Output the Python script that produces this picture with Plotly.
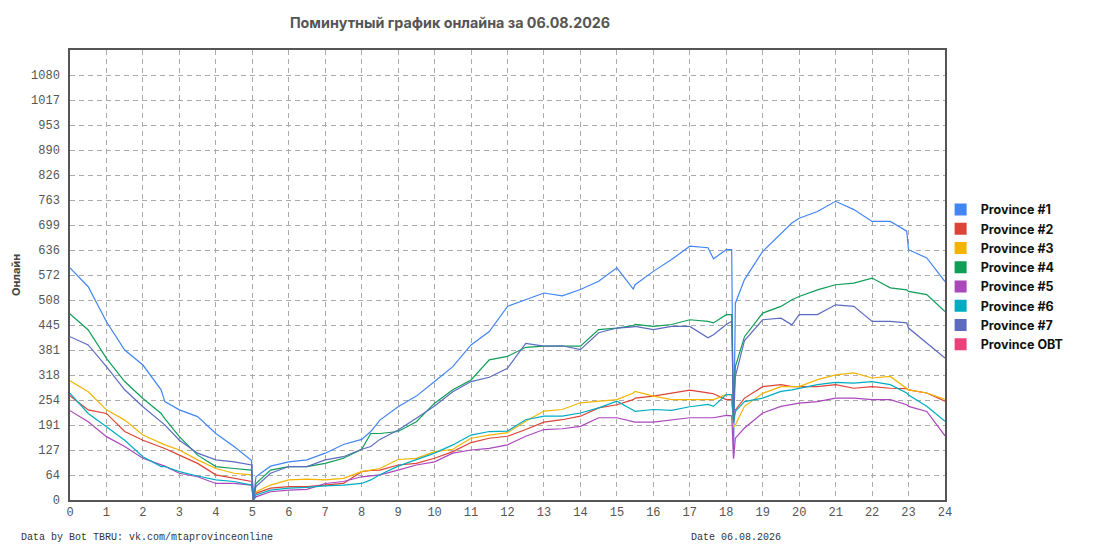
import plotly.graph_objects as go

# время в часах (общая ось для всех провинций)
hours = [0, 0.5, 1, 1.5, 2, 2.5, 2.6, 3, 3.5, 4, 4.5, 4.98, 5.03, 5.1,
         5.5, 6, 6.5, 7, 7.5, 8, 8.25, 8.5, 9, 9.5, 10, 10.5, 11, 11.5, 12,
         12.5, 13, 13.5, 14, 14.5, 15, 15.45, 15.5, 16, 16.5, 17, 17.5, 17.65, 18,
         18.15, 18.2, 18.25,
         18.5, 19, 19.5, 19.8, 20, 20.5, 21, 21.5, 22, 22.5, 22.95, 23, 23.5, 24]

province_1 = [590, 542, 453, 381, 343, 280, 250, 229, 212, 169, 136, 100, 0, 59,
              86, 97, 102, 119, 141, 154, 174, 203, 237, 264, 301, 339, 394, 428, 492,
              509, 526, 519, 535, 556, 590, 536, 547, 581, 611, 645, 641, 613, 636,
              636, 110, 500,
              560, 632, 678, 704, 716, 733, 759, 738, 708, 708, 683, 636, 615, 555]
province_2 = [265, 229, 220, 174, 152, 136, 131, 114, 93, 64, 55, 47, 0, 17,
              30, 34, 34, 38, 42, 72, 75, 76, 89, 93, 106, 123, 146, 157, 162,
              179, 198, 204, 213, 234, 242, 255, 259, 264, 272, 279, 272, 270, 255,
              255, 200, 229,
              259, 288, 293, 288, 288, 288, 293, 284, 288, 284, 283, 280, 272, 251]
province_3 = [303, 275, 229, 203, 165, 144, 140, 127, 102, 80, 68, 64, 0, 21,
              38, 51, 53, 51, 55, 72, 76, 80, 103, 106, 123, 129, 157, 165, 171,
              200, 226, 230, 247, 251, 255, 272, 276, 264, 255, 255, 255, 255, 268,
              268, 185, 191,
              238, 271, 288, 288, 288, 306, 318, 323, 310, 314, 285, 280, 272, 256]
province_4 = [473, 432, 360, 301, 258, 220, 207, 161, 114, 85, 80, 76, 0, 42,
              76, 85, 85, 93, 106, 129, 169, 169, 174, 199, 246, 280, 305, 356, 365,
              388, 391, 391, 391, 433, 437, 443, 446, 441, 446, 458, 454, 450, 471,
              471, 230, 339,
              415, 475, 492, 509, 517, 534, 547, 551, 564, 539, 534, 530, 522, 479]
province_5 = [227, 199, 161, 136, 106, 89, 86, 68, 59, 42, 42, 38, 0, 8,
              21, 25, 27, 42, 47, 59, 61, 64, 76, 89, 97, 119, 127, 131, 140,
              162, 179, 181, 187, 209, 209, 198, 198, 198, 204, 209, 209, 209, 215,
              214, 105, 157,
              183, 221, 238, 242, 246, 250, 259, 259, 255, 255, 242, 238, 225, 163]
province_6 = [271, 220, 186, 152, 110, 85, 85, 72, 61, 51, 47, 38, 0, 13,
              25, 30, 32, 36, 38, 42, 51, 64, 86, 103, 119, 140, 165, 174, 175,
              204, 213, 213, 221, 234, 251, 228, 225, 230, 228, 237, 243, 238, 268,
              268, 195, 225,
              250, 259, 276, 280, 284, 293, 299, 297, 301, 293, 272, 267, 238, 200]
province_7 = [415, 394, 339, 280, 237, 199, 191, 152, 119, 102, 97, 89, 0, 34,
              68, 85, 85, 102, 110, 129, 136, 154, 178, 208, 239, 275, 301, 312, 335,
              398, 391, 392, 382, 425, 437, 440, 441, 433, 441, 441, 412, 420, 446,
              454, 200, 314,
              405, 458, 462, 445, 471, 471, 496, 492, 454, 454, 450, 437, 399, 361]
province_obt = []  # нет данных за день

names = ["Province #1", "Province #2", "Province #3", "Province #4",
         "Province #5", "Province #6", "Province #7", "Province OBT"]
colors = ["#4285F4", "#DB4437", "#F4B400", "#0F9D58",
          "#AB47BC", "#00ACC1", "#5C6BC0", "#EC407A"]
series = [province_1, province_2, province_3, province_4,
          province_5, province_6, province_7, province_obt]

x_tick_labels = [str(h) for h in range(25)]
y_tick_labels = ["0", "64", "127", "191", "254", "318", "381", "445", "508",
                 "572", "636", "699", "763", "826", "890", "953", "1017", "1080"]
y_step = 1080 / 17

mono = "Liberation Mono"
sans = "Inter"

fig = go.Figure()

for name, color, values in zip(names, colors, series):
    fig.add_trace(go.Scatter(x=hours[:len(values)], y=values, mode="lines",
                             line=dict(color=color, width=1.2),
                             name=name, showlegend=False))

# легенда с квадратиками
for name, color in zip(names, colors):
    fig.add_trace(go.Scatter(x=[None], y=[None], mode="markers", name=name,
                             marker=dict(symbol="square", size=12, color=color)))

grid = dict(showgrid=True, gridcolor="#aaaaaa", gridwidth=1, griddash="5px,4px",
            showline=True, linecolor="#555555", linewidth=1.5, mirror=True,
            zeroline=False, ticks="", automargin=False,
            tickfont=dict(family=mono, size=12, color="#555555"))

fig.update_xaxes(range=[0, 24], tickvals=list(range(25)), ticktext=x_tick_labels, **grid)
fig.update_yaxes(range=[0, 18 * y_step],
                 tickvals=[k * y_step for k in range(len(y_tick_labels))],
                 ticktext=y_tick_labels, ticklabelstandoff=6,
                 title=dict(text="<b>Онлайн</b>", standoff=8,
                            font=dict(family=sans, size=11, color="#444444")),
                 **grid)

# страница добавляет отступ 8px, поэтому поля сдвинуты
fig.update_layout(
    width=1095, height=550,
    margin=dict(l=62, r=158, t=42, b=58),
    plot_bgcolor="white", paper_bgcolor="white",
    title=dict(text="<b>Поминутный график онлайна за 06.08.2026</b>",
               x=442 / 1095, xref="container", xanchor="center",
               y=1 - 15 / 550, yref="container", yanchor="middle",
               font=dict(family=sans, size=14.3, color="#555555")),
    legend=dict(x=0.995, y=0.678, xanchor="left", yanchor="top",
                font=dict(family=sans, size=12.5, color="#111111", weight="bold"),
                tracegroupgap=0, itemwidth=30, bgcolor="rgba(0,0,0,0)"),
    annotations=[
        dict(text="Data by Bot TBRU: vk.com/mtaprovinceonline", xref="paper", yref="paper",
             x=(19 - 70) / 875, y=-37 / 450, xanchor="left", yanchor="middle", showarrow=False,
             font=dict(family=mono, size=10, color="#333333")),
        dict(text="Date 06.08.2026", xref="paper", yref="paper",
             x=(736 - 70) / 875, y=-37 / 450, xanchor="center", yanchor="middle", showarrow=False,
             font=dict(family=mono, size=10, color="#333333")),
    ],
)

fig.write_html("out.html")
